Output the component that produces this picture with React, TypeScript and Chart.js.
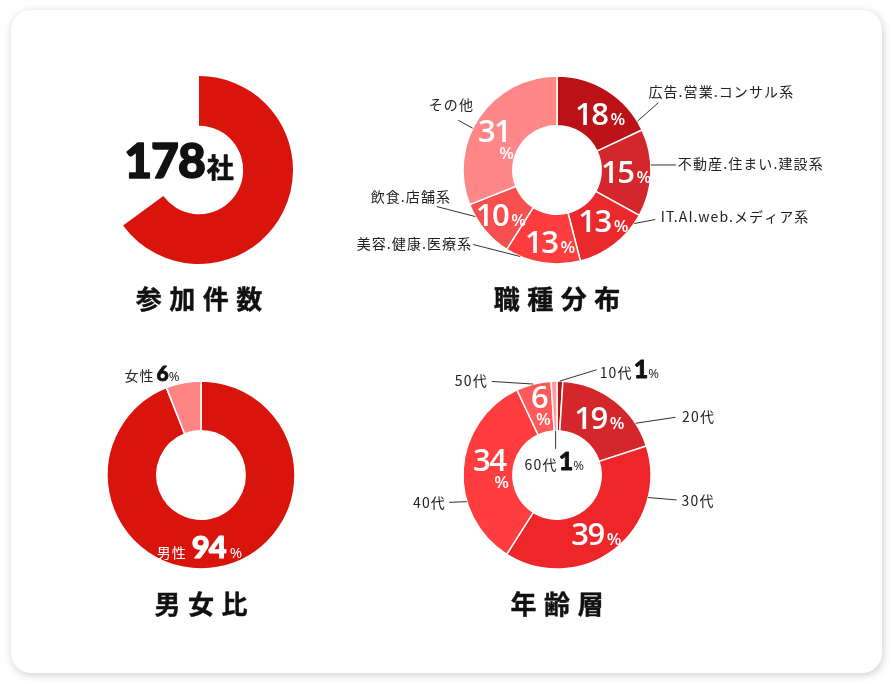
import React, { useEffect, useRef } from 'react';
import { Chart, registerables } from 'chart.js';

Chart.register(...registerables);

// ---------- data ----------
const companyLabels = ['参加企業', ''];
const companyValues = [178, 96];
const companyUnit = '社';

const jobLabels = ['広告.営業.コンサル系', '不動産.住まい.建設系', 'IT.AI.web.メディア系', '美容.健康.医療系', '飲食.店舗系', 'その他'];
const jobValues = [18, 15, 13, 13, 10, 31];

const genderLabels = ['男性', '女性'];
const genderValues = [94, 6];

const ageLabels = ['10代', '20代', '30代', '40代', '50代', '60代'];
const ageValues = [1, 19, 39, 34, 6, 1];

const chartTitles = ['参加件数', '職種分布', '男女比', '年齢層'];
const percentSign = '%';

// ---------- styles ----------
const companyColors = ['#d9140c', 'rgba(0,0,0,0)'];
const jobColors = ['#bb1217', '#d4272b', '#e9292c', '#ff3d3f', '#f74f4f', '#ff8788'];
const genderColors = ['#d9140c', '#ff8585'];
const ageColors = ['#bb1217', '#d4272b', '#ee2629', '#ff3d3f', '#ff5a5a', '#ff9b9b'];

const JP = '"Noto Sans CJK JP", "Noto Sans", sans-serif';
const NUM = '"Open Sans", sans-serif';
const HEAVY = 'Lato, "Open Sans", sans-serif';

type Part = { t: string; size: number; weight: number; family: string; color: string; ls?: number; gap?: number; stroke?: number };
type Ring = 'outer' | 'inner' | 'mid' | 'center';
type Align = 'left' | 'right' | 'center';
type Ann = { seg: number; t: number; ring: Ring; line?: [number, number]; off: [number, number]; align: Align; parts: Part[]; stack?: boolean };
type Callout = { t: number; ring: Ring; line?: [number, number]; off: [number, number]; align: Align };

const label = (t: string, color = '#222', size = 14, ls = 1.1, gap = 0): Part => ({ t, size, weight: 400, family: JP, color, ls, gap });
const bigPct = (t: string): Part => ({ t, size: 31, weight: 600, family: NUM, color: '#fff', ls: -1.5, gap: 3 });
const smallPct = (color = '#fff', size = 17, weight = 600): Part => ({ t: percentSign, size, weight, family: NUM, color });
const heavy = (t: string, size: number, color: string, gap = 3, stroke = 0): Part => ({ t, size, weight: 900, family: HEAVY, color, ls: -1, gap, stroke });

// ---------- layout (label placement) ----------
const jobCallouts: Callout[] = [
  { t: 0.907, ring: 'outer', line: [21, -18.6], off: [-10, -10.5], align: 'left' },
  { t: 0.41, ring: 'outer', line: [25, 0], off: [2, -1.5], align: 'left' },
  { t: 0.126, ring: 'outer', line: [21, -4], off: [5.5, -2.5], align: 'left' },
  { t: 0.8, ring: 'outer', line: [-47, -12], off: [-2, -1], align: 'right' },
  { t: 0.775, ring: 'outer', line: [-38.6, -10], off: [13.3, -10], align: 'right' },
  { t: 0.43, ring: 'outer', line: [-14.6, -8], off: [14.7, -15.7], align: 'right' },
];
const jobInside: ([number, number, boolean] | null)[] = [[6, 2, false], [0, 0, false], [4, -4, false], [4, 3.5, false], [-3, 1, false], [-5, 8, true]];

const ageCallouts: Callout[] = [
  { t: 0.5, ring: 'outer', line: [36.7, -11.3], off: [3, -1], align: 'left' },
  { t: 0.775, ring: 'outer', line: [40, -6], off: [6.6, 0], align: 'left' },
  { t: 0.227, ring: 'outer', line: [28.3, 2.4], off: [5, 1], align: 'left' },
  { t: 0.336, ring: 'outer', line: [-17.7, 0.7], off: [-4.3, 0.6], align: 'right' },
  { t: 0.49, ring: 'outer', line: [-41.6, -2.6], off: [-5, 0], align: 'right' },
  { t: 0.5, ring: 'inner', line: [0, 18], off: [-31, 12], align: 'left' },
];
const ageInside: ([number, number, boolean] | null)[] = [null, [0, -3, false], [-3, 4, false], [2, -2, true], [0, -3, true], null];
const ageValueInCallout = [true, false, false, false, false, true];

const centers: [number, number][] = [[199, 170], [557, 170], [201, 475.3], [557, 475.3]];
const CW = 700;
const CH = 320;

// ---------- drawing helpers ----------
function setFont(ctx: any, p: Part) {
  ctx.font = `${p.weight} ${p.size}px ${p.family}`;
  ctx.fillStyle = p.color;
  ctx.strokeStyle = p.color;
  ctx.letterSpacing = `${p.ls || 0}px`;
}
function partW(ctx: any, p: Part) {
  setFont(ctx, p);
  return ctx.measureText(p.t).width;
}
function fillPart(ctx: any, p: Part, x: number, y: number) {
  ctx.fillText(p.t, x, y);
  if (p.stroke) {
    ctx.lineWidth = p.stroke;
    ctx.lineJoin = 'round';
    ctx.strokeText(p.t, x, y);
  }
}
function drawParts(ctx: any, parts: Part[], x: number, cy: number, align: Align) {
  let w = 0;
  parts.forEach((p, i) => { w += partW(ctx, p) + (i < parts.length - 1 ? p.gap || 0 : -(p.ls || 0)); });
  let sx = align === 'left' ? x : align === 'right' ? x - w : x - w / 2;
  const maxSize = Math.max(...parts.map((p) => p.size));
  const base = cy + maxSize * 0.36;
  ctx.textAlign = 'left';
  ctx.textBaseline = 'alphabetic';
  parts.forEach((p) => {
    const pw = partW(ctx, p);
    fillPart(ctx, p, sx, base);
    sx += pw + (p.gap || 0);
  });
  ctx.letterSpacing = '0px';
}
function drawStack(ctx: any, parts: Part[], x: number, cy: number) {
  const [num, pct] = parts;
  const w1 = partW(ctx, num) - (num.ls || 0);
  const h1 = num.size * 0.72;
  const h2 = pct.size * 0.72;
  const gap = 5;
  const top = cy - (h1 + gap + h2) / 2;
  ctx.textAlign = 'left';
  ctx.textBaseline = 'alphabetic';
  setFont(ctx, num);
  fillPart(ctx, num, x - w1 / 2, top + h1);
  const w2 = partW(ctx, pct);
  fillPart(ctx, pct, x + w1 / 2 - w2 + 2, top + h1 + gap + h2);
  ctx.letterSpacing = '0px';
}

function annPlugin(anns: Ann[], title: string) {
  return {
    id: 'annotations',
    afterDatasetsDraw(chart: any) {
      const ctx = chart.ctx;
      const arcs = chart.getDatasetMeta(0).data as any[];
      ctx.save();
      anns.forEach((a) => {
        const arc = arcs[a.seg];
        const ang = arc.startAngle + (arc.endAngle - arc.startAngle) * a.t;
        const r = a.ring === 'outer' ? arc.outerRadius : a.ring === 'inner' ? arc.innerRadius : a.ring === 'mid' ? (arc.outerRadius + arc.innerRadius) / 2 : 0;
        let px = arc.x + r * Math.cos(ang);
        let py = arc.y + r * Math.sin(ang);
        if (a.line) {
          ctx.beginPath();
          ctx.moveTo(px, py);
          px += a.line[0];
          py += a.line[1];
          ctx.lineTo(px, py);
          ctx.strokeStyle = '#333';
          ctx.lineWidth = 1;
          ctx.stroke();
        }
        const tx = px + a.off[0];
        const ty = py + a.off[1];
        if (a.stack) drawStack(ctx, a.parts, tx, ty);
        else drawParts(ctx, a.parts, tx, ty, a.align);
      });
      const c = arcs[0];
      const tp: Part = { t: title, size: 26, weight: 700, family: JP, color: '#111', ls: 7.5, stroke: 0.4 };
      drawParts(ctx, [tp], c.x, c.y + 130, 'center');
      ctx.restore();
    },
  };
}

function makeConfig(labels: string[], values: number[], colors: string[], borderWidth: number, anns: Ann[], title: string): any {
  return {
    type: 'doughnut',
    data: { labels, datasets: [{ data: values, backgroundColor: colors, borderColor: '#ffffff', borderWidth, hoverOffset: 0 }] },
    options: {
      responsive: false,
      animation: false,
      events: [],
      radius: 94,
      cutout: '47%',
      layout: { padding: 0 },
      plugins: { legend: { display: false }, tooltip: { enabled: false }, title: { display: false } },
    },
    plugins: [annPlugin(anns, title)],
  };
}

// ---------- annotation builders ----------
const companyUnitPart: Part = { t: companyUnit, size: 27, weight: 700, family: JP, color: '#111', ls: 0, stroke: 0.6 };
const companyAnns: Ann[] = [
  { seg: 0, t: 0, ring: 'center', off: [-20, -9], align: 'center', parts: [heavy(String(companyValues[0]), 48, '#111', 2, 1.6), companyUnitPart] },
];

const jobAnns: Ann[] = [];
jobValues.forEach((v, i) => {
  const c = jobCallouts[i];
  jobAnns.push({ seg: i, t: c.t, ring: c.ring, line: c.line, off: c.off, align: c.align, parts: [label(jobLabels[i])] });
  const ins = jobInside[i];
  if (ins) jobAnns.push({ seg: i, t: 0.5, ring: 'mid', off: [ins[0], ins[1]], align: 'center', stack: ins[2], parts: [bigPct(String(v)), smallPct()] });
});

const genderAnns: Ann[] = [
  { seg: 0, t: 0.532, ring: 'mid', off: [-1.5, 2.4], align: 'center', parts: [label(genderLabels[0], '#fff', 14, 1, 5), heavy(String(genderValues[0]), 31, '#fff', 4, 1), smallPct('#fff', 15, 400)] },
  { seg: 1, t: 0.5, ring: 'outer', off: [-4, -9], align: 'right', parts: [label(genderLabels[1], '#222', 14, 1, 2), heavy(String(genderValues[1]), 21, '#111', 1, 0.8), smallPct('#222', 13, 400)] },
];

const ageAnns: Ann[] = [];
ageValues.forEach((v, i) => {
  const c = ageCallouts[i];
  const parts: Part[] = ageValueInCallout[i]
    ? [label(ageLabels[i], '#222', 14, 1.2, 1), heavy(String(v), 25, '#111', 1, 0.8), smallPct('#222', 13, 400)]
    : [label(ageLabels[i], '#222', 14, 1.2)];
  ageAnns.push({ seg: i, t: c.t, ring: c.ring, line: c.line, off: c.off, align: c.align, parts });
  const ins = ageInside[i];
  if (ins) ageAnns.push({ seg: i, t: 0.5, ring: 'mid', off: [ins[0], ins[1]], align: 'center', stack: ins[2], parts: [bigPct(String(v)), smallPct()] });
});

function Donut({ index, config }: { index: number; config: any }) {
  const ref = useRef<HTMLCanvasElement>(null);
  useEffect(() => {
    const chart = new Chart(ref.current as HTMLCanvasElement, config);
    return () => chart.destroy();
  }, []);
  const [cx, cy] = centers[index];
  return (
    <canvas
      ref={ref}
      width={CW}
      height={CH}
      style={{ position: 'absolute', left: cx - CW / 2, top: cy - CH / 2, width: CW, height: CH, pointerEvents: 'none' }}
    />
  );
}

export default function App() {
  const configs = [
    makeConfig(companyLabels, companyValues, companyColors, 0, companyAnns, chartTitles[0]),
    makeConfig(jobLabels, jobValues, jobColors, 1.5, jobAnns, chartTitles[1]),
    makeConfig(genderLabels, genderValues, genderColors, 1.5, genderAnns, chartTitles[2]),
    makeConfig(ageLabels, ageValues, ageColors, 1.5, ageAnns, chartTitles[3]),
  ];
  return (
    <div style={{ position: 'absolute', left: 0, top: 0, width: 893, height: 684, background: '#fff', overflow: 'hidden' }}>
      <div
        style={{
          position: 'absolute',
          left: 11,
          top: 10,
          width: 871,
          height: 663,
          borderRadius: 20,
          background: '#fff',
          boxShadow: '1px 2px 9px rgba(0,0,0,0.2)',
        }}
      />
      {configs.map((c, i) => (
        <Donut key={i} index={i} config={c} />
      ))}
    </div>
  );
}
